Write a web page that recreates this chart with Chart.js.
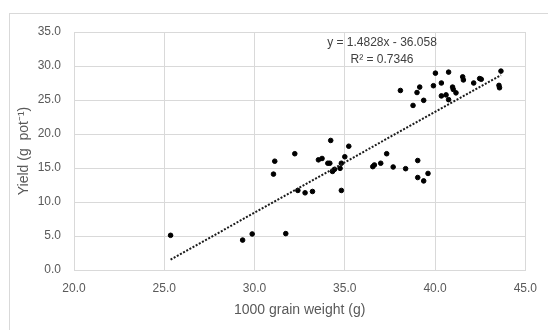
<!DOCTYPE html>
<html>
<head>
<meta charset="utf-8">
<script src="https://cdn.jsdelivr.net/npm/chart.js@4.4.0/dist/chart.umd.min.js"></script>
<style>
    body { margin: 0; background: #ffffff; }
    #wrap { position: relative; width: 548px; height: 330px; }
</style>
</head>
<body>
<div id="wrap"><canvas id="yieldChart" width="548" height="330"></canvas></div>
<script>
// 1000 grain weight (g)
const grainWeight = [
    25.35, 29.34, 29.87, 31.73, 31.05, 31.12, 32.23, 32.40, 32.80, 33.21,
    33.54, 33.74, 34.22, 34.06, 34.17, 34.32, 34.43, 34.74, 34.81, 35.00,
    34.81, 35.22, 36.55, 36.64, 36.99, 37.32, 37.68, 38.37, 39.04, 39.04,
    39.37, 39.61, 38.08, 38.78, 39.00, 39.15, 39.37, 40.02, 39.91, 40.35,
    40.35, 40.61, 40.75, 40.75, 40.97, 41.01, 41.16, 41.53, 41.57, 42.14,
    42.47, 42.56, 43.65, 43.54, 43.57
];
// Yield (g pot-1)
const yieldValues = [
    5.10, 4.40, 5.30, 5.35, 14.10, 16.00, 17.10, 11.70, 11.35, 11.55,
    16.20, 16.40, 19.05, 15.70, 15.70, 14.50, 14.80, 14.95, 15.70, 16.65,
    11.70, 18.20, 15.20, 15.45, 15.70, 17.10, 15.15, 14.90, 16.10, 13.60,
    13.10, 14.20, 26.40, 24.20, 26.10, 26.90, 24.95, 28.95, 27.10, 27.50,
    25.60, 25.75, 29.10, 25.05, 26.90, 26.55, 26.05, 28.40, 27.95, 27.50,
    28.15, 28.05, 29.25, 27.15, 26.80
];
const xTicks = [20, 25, 30, 35, 40, 45];
const yTicks = [0, 5, 10, 15, 20, 25, 30, 35];

// linear trendline as printed on the chart
const slope = 1.4828;
const intercept = -36.058;
const rSquared = 0.7346;

const points = grainWeight.map((x, i) => ({ x: x, y: yieldValues[i] }));
const xMin = Math.min(...grainWeight);
const xMax = Math.max(...grainWeight);
const trendPoints = [
    { x: xMin, y: slope * xMin + intercept },
    { x: xMax, y: slope * xMax + intercept }
];

const textColor = "#595959";
const gridColor = "#d9d9d9";
const baseFont = "'Liberation Sans', Arial, sans-serif";

const frame = {
    id: "frame",
    beforeDraw(chart) {
        const ctx = chart.ctx;
        ctx.save();
        ctx.fillStyle = "#ffffff";
        ctx.fillRect(0, 0, chart.width, chart.height);
        ctx.strokeStyle = gridColor;
        ctx.lineWidth = 1;
        ctx.strokeRect(9.5, 13.5, chart.width + 20, chart.height + 20);
        ctx.restore();
    },
    afterDraw(chart) {
        const ctx = chart.ctx;
        ctx.save();
        ctx.fillStyle = "#404040";
        ctx.font = "12px " + baseFont;
        ctx.textAlign = "center";
        ctx.textBaseline = "middle";
        ctx.fillText("y = " + slope.toFixed(4) + "x - " + Math.abs(intercept).toFixed(3), 382, 43);
        ctx.fillText("R\u00B2 = " + rSquared.toFixed(4), 382, 60);
        ctx.restore();
    }
};

new Chart(document.getElementById("yieldChart"), {
    type: "scatter",
    data: {
        datasets: [{
            type: "line",
            label: "Linear trend",
            data: trendPoints,
            borderColor: "#1a1a1a",
            borderWidth: 2,
            borderDash: [2, 1.6],
            pointRadius: 0,
            fill: false
        }, {
            label: "Yield",
            data: points,
            backgroundColor: "#000000",
            borderColor: "#000000",
            pointRadius: 2.3,
            pointHoverRadius: 2.3
        }]
    },
    options: {
        responsive: false,
        animation: false,
        events: [],
        layout: {
            padding: { left: 0, top: 32, right: 22, bottom: 0 }
        },
        plugins: {
            legend: { display: false },
            tooltip: { enabled: false }
        },
        scales: {
            x: {
                type: "linear",
                min: 20,
                max: 45,
                afterBuildTicks: (scale) => { scale.ticks = xTicks.map(v => ({ value: v })); },
                afterFit: (scale) => { scale.height = 60; },
                grid: { color: gridColor, lineWidth: 1, drawTicks: false },
                border: { color: gridColor },
                ticks: {
                    padding: 11,
                    color: textColor,
                    font: { family: baseFont, size: 12 },
                    callback: (v) => Number(v).toFixed(1)
                },
                title: {
                    display: true,
                    text: "1000 grain weight (g)",
                    color: textColor,
                    font: { family: baseFont, size: 14 },
                    padding: { top: 0, bottom: 11 }
                }
            },
            y: {
                min: 0,
                max: 35,
                afterBuildTicks: (scale) => { scale.ticks = yTicks.map(v => ({ value: v })); },
                afterFit: (scale) => { scale.width = 74; },
                grid: { color: gridColor, lineWidth: 1, drawTicks: false },
                border: { color: gridColor },
                ticks: {
                    padding: 13,
                    color: textColor,
                    font: { family: baseFont, size: 12 },
                    callback: (v) => Number(v).toFixed(1)
                },
                title: {
                    display: true,
                    text: "Yield (g  pot\u207B\u00B9)",
                    color: textColor,
                    font: { family: baseFont, size: 14 },
                    padding: { top: 16, bottom: 0 }
                }
            }
        }
    },
    plugins: [frame]
});
</script>
</body>
</html>
